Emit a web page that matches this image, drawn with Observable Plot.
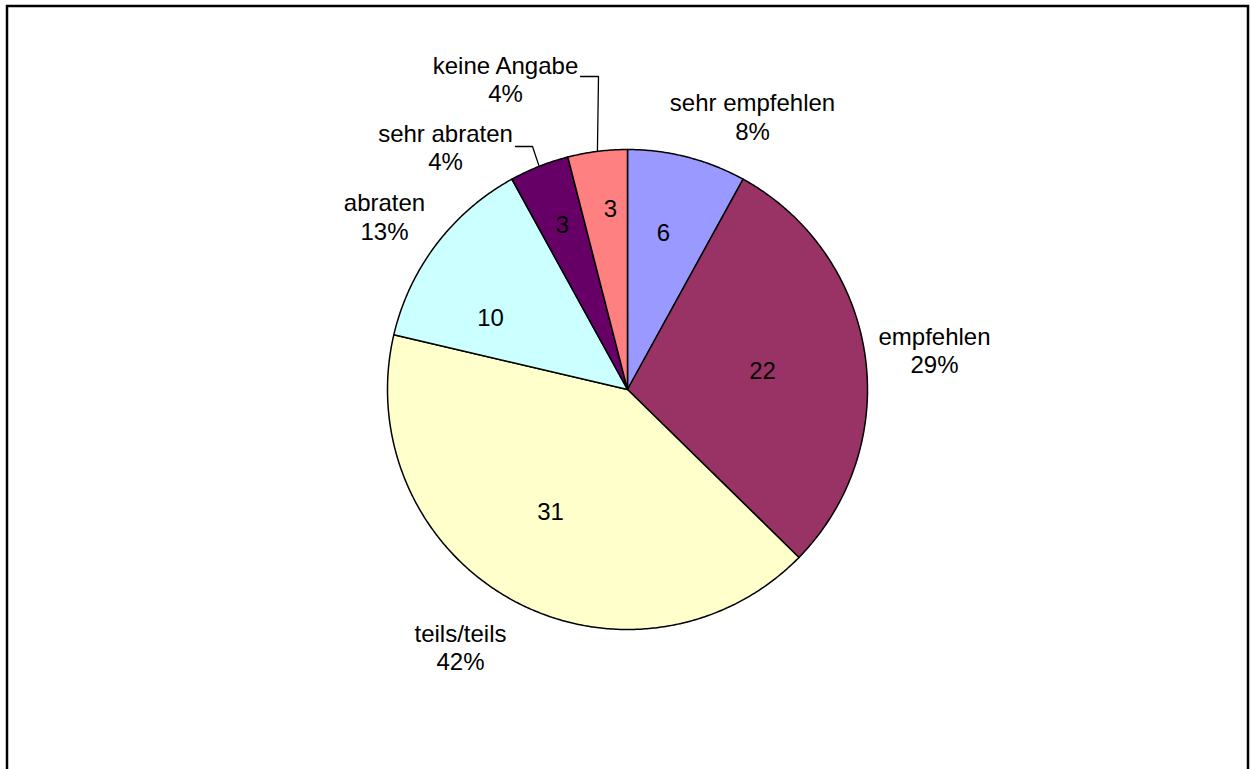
<!DOCTYPE html>
<html><head><meta charset="utf-8">
<script src="https://cdn.jsdelivr.net/npm/d3@7"></script>
<script src="https://cdn.jsdelivr.net/npm/@observablehq/plot@0.6"></script>
<style>html,body{margin:0;padding:0;background:#fff;overflow:hidden}</style>
</head><body><div id="chart"></div>
<script>
// ---- data ----
const categories = ["sehr empfehlen", "empfehlen", "teils/teils", "abraten", "sehr abraten", "keine Angabe"];
const counts = [6, 22, 31, 10, 3, 3];
const percentLabels = ["8%", "29%", "42%", "13%", "4%", "4%"];
const sliceColors = ["#9999FF", "#993366", "#FFFFCC", "#CCFFFF", "#660066", "#FF8080"];

// ---- layout (pixels) ----
const W = 1251, H = 769, cx = 627, cy = 389, R = 240;
const outerLabelOffset = [[125, -273], [307, -39.5], [-167, 257.5], [-243, -173], [-182, -242.5], [-122, -310.5]];
const innerLabelOffset = [[36, -156.5], [135, -18.5], [-77, 123], [-137, -71.5], [-65, -164.5], [-17, -180.5]];
// leader lines: [start, elbow] relative to center, ending on the slice's arc midpoint
const leaderOffsets = {"keine Angabe": [[-47, -313], [-29, -313]], "sehr abraten": [[-112, -243], [-95, -243]]};

const pie = d3.pie().sort(null).value(d => d)(counts);
const toXY = (a, r) => [cx + r * Math.sin(a), cy - r * Math.cos(a)];

const slicePts = [];
pie.forEach((p, i) => {
  slicePts.push({key: categories[i], color: sliceColors[i], x: cx, y: cy});
  const n = Math.max(2, Math.ceil((p.endAngle - p.startAngle) / (Math.PI / 360)));
  for (let k = 0; k <= n; k++) {
    const a = p.startAngle + (p.endAngle - p.startAngle) * k / n;
    const [x, y] = toXY(a, R);
    slicePts.push({key: categories[i], color: sliceColors[i], x, y});
  }
});

const outerLabels = categories.map((c, i) => ({
  text: c + "\n" + percentLabels[i],
  x: cx + outerLabelOffset[i][0], y: cy + outerLabelOffset[i][1]
}));
const innerLabels = counts.map((v, i) => ({
  text: String(v), x: cx + innerLabelOffset[i][0], y: cy + innerLabelOffset[i][1]
}));

const leaderPts = [];
categories.forEach((c, i) => {
  if (!leaderOffsets[c]) return;
  const p = pie[i];
  leaderOffsets[c].forEach(([dx, dy]) => leaderPts.push({key: c, x: cx + dx, y: cy + dy}));
  const [ax, ay] = toXY((p.startAngle + p.endAngle) / 2, R);
  leaderPts.push({key: c, x: ax, y: ay});
});

const font = "'Liberation Sans', Arial, Helvetica, sans-serif";
const chart = Plot.plot({
  width: W, height: H,
  margin: 0,
  x: {type: "linear", domain: [0, W], range: [0, W], axis: null},
  y: {type: "linear", domain: [0, H], range: [0, H], axis: null},
  color: {type: "identity"},
  style: {background: "#fff", fontFamily: font},
  marks: [
    Plot.rect([0], {x1: () => 7, x2: () => 1248, y1: () => 6, y2: () => 790, fill: "none", stroke: "#000", strokeWidth: 2.5}),
    Plot.line(slicePts, {x: "x", y: "y", z: "key", fill: "color", stroke: "#000", strokeWidth: 1.5, curve: "linear-closed", strokeLinejoin: "round"}),
    Plot.line(leaderPts, {x: "x", y: "y", z: "key", stroke: "#000", strokeWidth: 1.3}),
    Plot.text(innerLabels, {x: "x", y: "y", text: "text", fontSize: 24, fill: "#000", fontFamily: font}),
    Plot.text(outerLabels, {x: "x", y: "y", text: "text", fontSize: 24, lineHeight: 1.17, lineAnchor: "middle", fill: "#000", fontFamily: font})
  ]
});
document.getElementById("chart").appendChild(chart);
</script>
</body></html>
